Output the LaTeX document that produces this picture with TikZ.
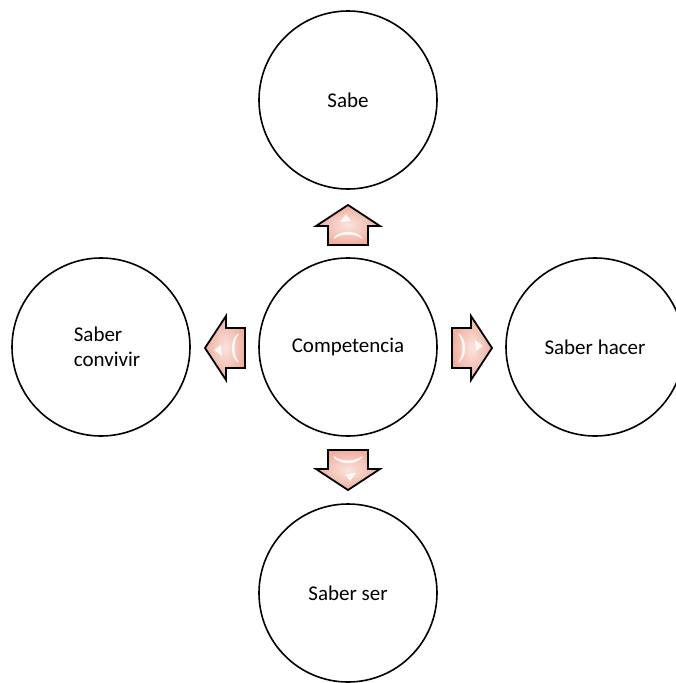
\documentclass[tikz,border=0pt]{standalone}
\usepackage{fontspec}
\setmainfont{Carlito}
\begin{document}
\begin{tikzpicture}[x=1pt,y=-1pt,
  topic/.style={circle,draw=black,line width=1.6pt,minimum size=178pt,
    inner sep=0pt,font=\fontsize{21}{25}\selectfont,text=black},
  pinkarrow/.style={draw=black,line width=1.8pt,line join=miter,
    shading=radial,inner color=pinkLight,outer color=pinkDark},
  glint/.style={fill=white,draw=none,opacity=0.85},
  blockarrow/.pic={
    % pointing along +x, tail at the origin
    \path[pinkarrow] (0,-20) -- (19,-20) -- (19,-32) -- (40,0) -- (19,32)
      -- (19,20) -- (0,20) -- cycle;
    \path[glint] (23,-8) -- (31,-2) -- (24,3) -- cycle;
    \path[glint] (6,-14) .. controls (12,-8) and (12,8) .. (6,14)
      -- (8,14) .. controls (15,6) and (15,-6) .. (8,-14) -- cycle;
  }]
\definecolor{pinkLight}{HTML}{FBE4DD}
\definecolor{pinkDark}{HTML}{EFAE9E}
\useasboundingbox (0,0) rectangle (676,683);

\node[topic] (core) at (348,347) {Competencia};
\node[topic] (sabe) at (348,100) {Sabe};
\node[topic] (hacer) at (595,347) {Saber hacer};
\node[topic,align=left] (convivir) at (101,347)
  {\hspace*{12pt}Saber\\\hspace*{12pt}convivir};
\node[topic] (ser) at (348,593) {Saber ser};

% block arrows radiating from the central circle
\pic[rotate=90] at (348,245) {blockarrow};
\pic[rotate=180] at (245,348) {blockarrow};
\pic at (452,348) {blockarrow};
\pic[rotate=-90] at (348,450) {blockarrow};
\end{tikzpicture}
\end{document}
